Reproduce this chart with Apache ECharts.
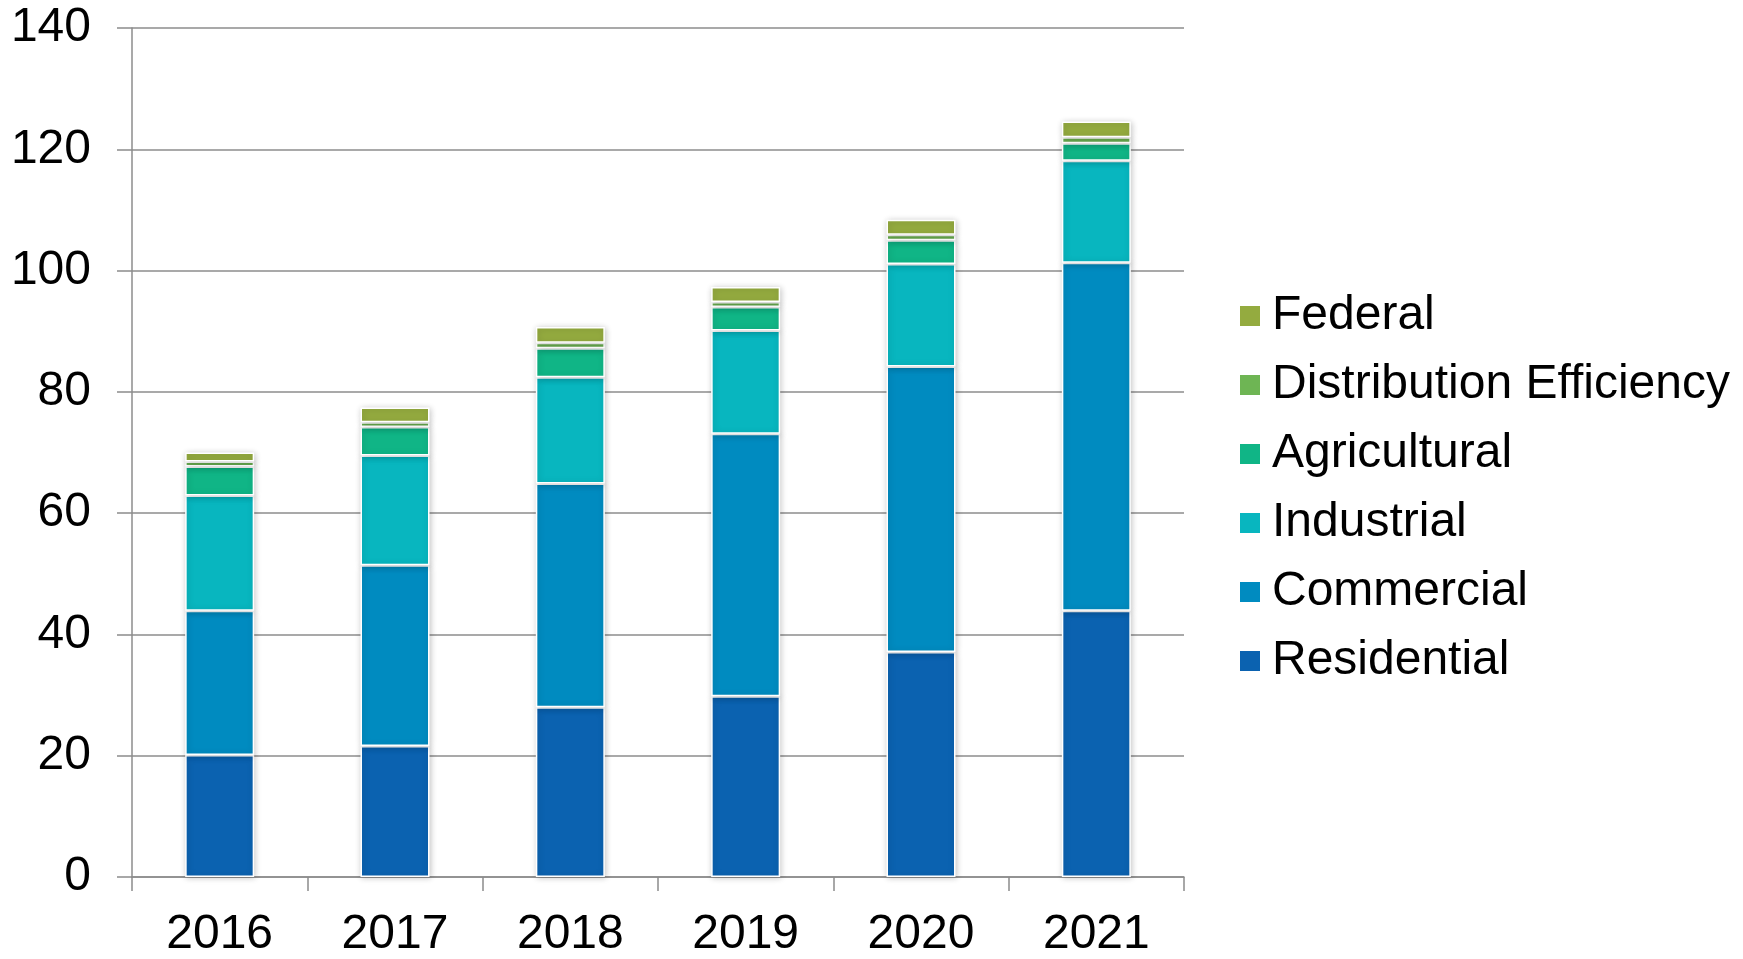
<!DOCTYPE html>
<html>
<head>
<meta charset="utf-8">
<script src="https://cdn.jsdelivr.net/npm/echarts@6/dist/echarts.min.js"></script>
<style>
html,body{margin:0;padding:0;background:#fff;}
#chart{width:1743px;height:959px;}
</style>
</head>
<body>
<div id="chart"></div>
<script>
const categories = ['2016','2017','2018','2019','2020','2021'];
const residential = [20.1, 21.6, 28.0, 29.8, 37.1, 43.9];
const commercial = [23.8, 29.8, 36.9, 43.3, 47.1, 57.4];
const industrial = [19.0, 18.1, 17.5, 17.0, 16.9, 16.8];
const agricultural = [4.8, 4.7, 4.8, 3.9, 3.9, 2.9];
const distributionEfficiency = [0.8, 0.8, 0.9, 0.8, 0.9, 1.0];
const federal = [1.5, 2.4, 2.6, 2.5, 2.5, 2.6];
const yTicks = [0, 20, 40, 60, 80, 100, 120, 140];

const seriesDefs = [
  {name:'Residential', data: residential, color:'#0b62b0'},
  {name:'Commercial', data: commercial, color:'#008bc0'},
  {name:'Industrial', data: industrial, color:'#08b6bf'},
  {name:'Agricultural', data: agricultural, color:'#10b586'},
  {name:'Distribution Efficiency', data: distributionEfficiency, color:'#6eb554'},
  {name:'Federal', data: federal, color:'#94ab3f'}
];

const chart = echarts.init(document.getElementById('chart'));
const font = 'Liberation Sans, Arial, sans-serif';
chart.setOption({
  animation: false,
  backgroundColor: '#ffffff',
  grid: {left: 132, right: 559, top: 28, bottom: 79, containLabel: false},
  legend: {
    orient: 'vertical',
    left: 1233,
    top: 287,
    itemWidth: 22,
    itemHeight: 22,
    itemGap: 21,
    icon: 'rect',
    data: seriesDefs.map(s => s.name).reverse(),
    textStyle: {fontFamily: font, fontSize: 48, color: '#000', lineHeight: 48, padding: [0,0,0,6]}
  },
  xAxis: {
    type: 'category',
    data: categories,
    axisLine: {lineStyle: {color: '#8c8c8c', width: 1.5}},
    axisTick: {show: true, length: 14, alignWithLabel: false, lineStyle: {color: '#8c8c8c', width: 1.5}},
    axisLabel: {fontFamily: font, fontSize: 48, color: '#000', margin: 34}
  },
  yAxis: {
    type: 'value',
    min: yTicks[0],
    max: yTicks[yTicks.length-1],
    interval: 20,
    axisLine: {show: true, lineStyle: {color: '#8c8c8c', width: 1.5}},
    axisTick: {show: true, length: 15, lineStyle: {color: '#8c8c8c', width: 1.5}},
    splitLine: {show: true, lineStyle: {color: '#8c8c8c', width: 1.5}},
    axisLabel: {fontFamily: font, fontSize: 48, color: '#000', margin: 41}
  },
  series: seriesDefs.map(s => ({
    name: s.name,
    type: 'bar',
    stack: 'total',
    data: s.data,
    barWidth: 69,
    itemStyle: {
      color: s.color,
      borderColor: '#ffffff',
      borderWidth: 1.5,
      shadowBlur: 6,
      shadowColor: 'rgba(0,0,0,0.22)',
      shadowOffsetX: 1,
      shadowOffsetY: 1
    }
  }))
});
</script>
</body>
</html>
